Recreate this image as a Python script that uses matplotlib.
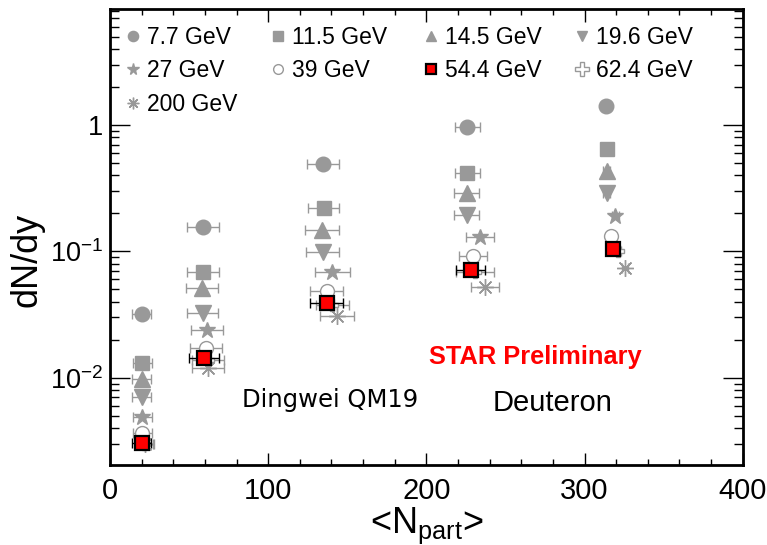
import matplotlib
matplotlib.use("Agg")
import matplotlib.pyplot as plt
from matplotlib.lines import Line2D
from matplotlib.legend import Legend
from matplotlib.ticker import FixedLocator, FixedFormatter, MultipleLocator, NullFormatter, LogLocator
import numpy as np

# ---------------- data ----------------
energies = ["7.7 GeV", "11.5 GeV", "14.5 GeV", "19.6 GeV", "27 GeV",
            "39 GeV", "54.4 GeV", "62.4 GeV", "200 GeV"]

npart_77 = [20, 59, 134.5, 226, 313.5]
dndy_77 = [0.0319, 0.156, 0.491, 0.964, 1.41]
xerr_77 = [6, 10, 10, 8, 2]

npart_115 = [20.5, 59, 135, 226, 314]
dndy_115 = [0.0130, 0.0686, 0.220, 0.417, 0.646]
xerr_115 = [6, 10, 10, 8, 2]

npart_145 = [20, 58, 134, 225.5, 314]
dndy_145 = [0.00975, 0.0512, 0.148, 0.290, 0.432]
xerr_145 = [6, 10, 10.5, 8, 2]

npart_196 = [20, 58.5, 134.5, 225.5, 314]
dndy_196 = [0.00702, 0.0325, 0.0987, 0.194, 0.290]
xerr_196 = [6, 10, 10.5, 8, 2]

npart_27 = [20.5, 61.5, 140.5, 234, 319.5]
dndy_27 = [0.00487, 0.0238, 0.0686, 0.130, 0.190]
xerr_27 = [6, 10, 11, 9, 2]

npart_39 = [20.5, 60.5, 137, 229.5, 317]
dndy_39 = [0.00364, 0.0172, 0.0485, 0.0918, 0.132]
xerr_39 = [6, 10, 10.5, 9, 2]

npart_544 = [20, 59.5, 137, 228, 318]
dndy_544 = [0.00303, 0.0143, 0.0390, 0.0711, 0.104]
xerr_544 = [6, 9.5, 10.5, 9, 2]

npart_624 = [21.5, 62, 140.5, 231, 321]
dndy_624 = [0.00300, 0.0138, 0.0375, 0.0690, 0.101]
xerr_624 = [6, 10, 10.5, 12, 2]

npart_200 = [22, 62, 143.5, 237, 325.5]
dndy_200 = [0.00300, 0.0119, 0.0307, 0.0522, 0.0738]
xerr_200 = [6, 10, 11, 9, 2]

x_ticks = [0, 100, 200, 300, 400]
x_tick_labels = ["0", "100", "200", "300", "400"]
y_ticks = [1e-2, 1e-1, 1]
y_tick_labels = [r"$\mathdefault{10^{-2}}$", r"$\mathdefault{10^{-1}}$", "1"]

# ---------------- style ----------------
GRAY = "#999999"
plt.rcParams["font.family"] = ["Liberation Sans", "DejaVu Sans"]
plt.rcParams["mathtext.fontset"] = "custom"
plt.rcParams["mathtext.rm"] = "Liberation Sans"

fig = plt.figure(figsize=(7.67, 5.45), dpi=100)
ax = fig.add_axes([0.1434, 0.1468, 0.9683 - 0.1434, 0.9835 - 0.1468])

series = [
    # label, x, y, xerr, marker, ms, face, edge, ecolor
    (energies[0], npart_77, dndy_77, xerr_77, "o", 10.5, GRAY, GRAY, GRAY),
    (energies[1], npart_115, dndy_115, xerr_115, "s", 10, GRAY, GRAY, GRAY),
    (energies[2], npart_145, dndy_145, xerr_145, "^", 11, GRAY, GRAY, GRAY),
    (energies[3], npart_196, dndy_196, xerr_196, "v", 11, GRAY, GRAY, GRAY),
    (energies[4], npart_27, dndy_27, xerr_27, "*", 12, GRAY, GRAY, GRAY),
    (energies[5], npart_39, dndy_39, xerr_39, "o", 10, "white", GRAY, GRAY),
    (energies[7], npart_624, dndy_624, xerr_624, "P", 9, "white", GRAY, GRAY),
    (energies[8], npart_200, dndy_200, xerr_200, (8, 2, 0), 12, GRAY, GRAY, GRAY),
    (energies[6], npart_544, dndy_544, xerr_544, "s", 10, "red", "black", "black"),
]
legend_scale = {"62.4 GeV": 1.05}

handles = {}
for i, (lab, x, y, xe, mk, ms, fc, ec, erc) in enumerate(series):
    ax.errorbar(x, y, xerr=xe, fmt="none", ecolor=erc, elinewidth=1.0,
                capsize=3.5, capthick=1.0, zorder=2 + i)
    mew = 1.6 if lab == "54.4 GeV" else 1.0
    ax.plot(x, y, linestyle="none", marker=mk, markersize=ms,
            markerfacecolor=fc, markeredgecolor=ec, markeredgewidth=mew,
            zorder=2.5 + i)
    handles[lab] = Line2D([], [], linestyle="none", marker=mk,
                          markersize=ms * legend_scale.get(lab, 0.7),
                          markerfacecolor=fc, markeredgecolor=ec,
                          markeredgewidth=mew)

ax.set_yscale("log")
ax.set_xlim(0, 400)
ax.set_ylim(2.04e-3, 8.3)

ax.xaxis.set_major_locator(FixedLocator(x_ticks))
ax.xaxis.set_major_formatter(FixedFormatter(x_tick_labels))
ax.xaxis.set_minor_locator(MultipleLocator(20))
ax.yaxis.set_major_locator(FixedLocator(y_ticks))
ax.yaxis.set_major_formatter(FixedFormatter(y_tick_labels))
ax.yaxis.set_minor_locator(LogLocator(base=10, subs=np.arange(2, 10)))
ax.yaxis.set_minor_formatter(NullFormatter())

for sp in ax.spines.values():
    sp.set_linewidth(2.0)

ax.tick_params(axis="both", which="both", direction="in", top=True, right=True,
               width=1.0, colors="black")
ax.tick_params(axis="x", which="major", length=9, pad=9)
ax.tick_params(axis="x", which="minor", length=4.5)
ax.tick_params(axis="y", which="major", length=14.5, pad=5)
ax.tick_params(axis="y", which="minor", length=6.5)
for t in ax.get_xticklabels():
    t.set_fontsize(21)
for t in ax.get_yticklabels():
    t.set_fontsize(19.5)

ax.set_ylabel("dN/dy", fontsize=26)
ax.yaxis.set_label_coords(-0.103, 0.45)
ax.set_xlabel(r"<N$_{\mathdefault{part}}$>", fontsize=26)
ax.xaxis.set_label_coords(0.5, -0.088)

# legend: four single-column legends
cols = [["7.7 GeV", "27 GeV", "200 GeV"],
        ["11.5 GeV", "39 GeV"],
        ["14.5 GeV", "54.4 GeV"],
        ["19.6 GeV", "62.4 GeV"]]
col_x = [-0.002, 0.2276, 0.469, 0.708]
for cx, labs in zip(col_x, cols):
    leg = Legend(ax, [handles[l] for l in labs], labs, loc="upper left",
                 bbox_to_anchor=(cx, 1.0), frameon=False, fontsize=16.5,
                 handlelength=0.6, handletextpad=0.3, labelspacing=0.45,
                 borderaxespad=0.35, numpoints=1)
    ax.add_artist(leg)

ax.text(0.673, 0.237, "STAR Preliminary", transform=ax.transAxes, color="red",
        fontsize=18.3, fontweight="bold", ha="center", va="center")
ax.text(0.348, 0.142, "Dingwei QM19", transform=ax.transAxes, color="black",
        fontsize=17.5, family="DejaVu Sans", ha="center", va="center")
ax.text(0.699, 0.136, "Deuteron", transform=ax.transAxes, color="black",
        fontsize=21, ha="center", va="center")

fig.savefig("out.png", dpi=100)
